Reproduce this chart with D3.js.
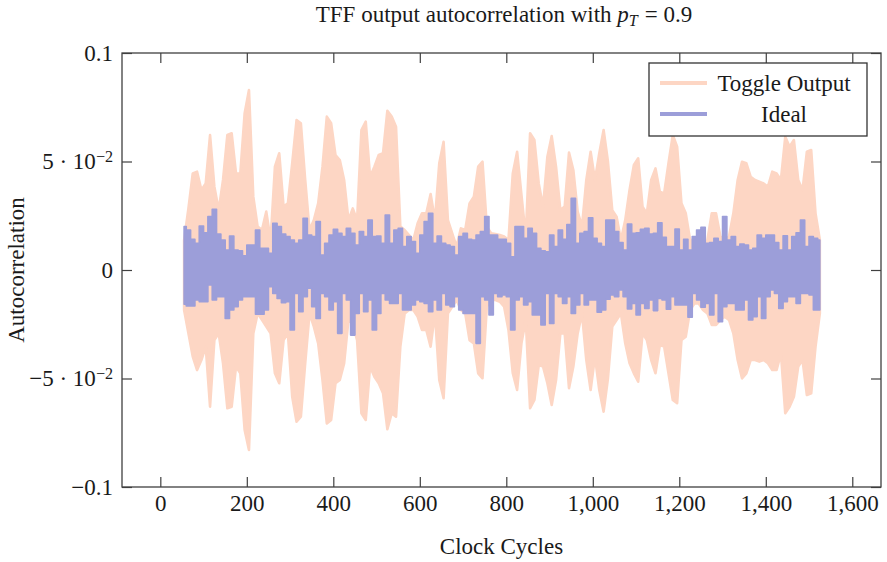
<!DOCTYPE html>
<html>
<head>
<meta charset="utf-8">
<script src="https://cdn.jsdelivr.net/npm/d3@7"></script>
<style>
    body { margin: 0; background: #ffffff; }
    svg { display: block; font-family: "Liberation Serif", "DejaVu Serif", serif; }
</style>
</head>
<body>
<script>
// 采样时钟周期（每 10 个周期读取一次包络）
const cycles = d3.range(55, 1535, 10);

// 以下数值单位为 1e-3，分别为振荡曲线的上/下包络
const toggleUpper = [
    13.8, 28.4, 44.5, 45.3, 36.9, 39.9, 62.2, 38.4, 27.6, 41.5, 62.2, 63.0, 44.5, 44.5, 72.2, 82.9, 33.8, 20.0, 18.4, 26.9, 13.8, 47.6, 53.8, 29.2,
    30.7, 49.2, 69.1, 67.6, 41.5, 18.4, 23.0, 30.7, 47.6, 70.7, 67.6, 53.0, 50.7, 41.5, 23.0, 28.4, 23.0, 64.5, 68.4, 43.0, 47.6, 53.0, 53.8, 73.4, 70.7,
    66.0, 20.0, 18.4, 16.1, 13.8, 21.5, 26.1, 26.1, 35.0, 23.0, 49.2, 59.1, 23.0, 16.9, 10.8, 19.2, 18.4, 30.7, 33.8, 47.6, 49.9, 20.0, 16.9, 16.6, 16.1,
    15.4, 13.8, 44.5, 54.5, 34.6, 15.4, 63.0, 59.9, 39.9, 29.2, 52.2, 61.7, 47.6, 27.6, 29.2, 54.1, 46.1, 26.9, 20.0, 41.5, 54.5, 41.5, 53.8, 64.5, 50.0,
    27.6, 24.6, 13.8, 23.0, 36.9, 48.4, 51.5, 29.2, 26.1, 41.5, 46.8, 36.1, 35.3, 49.2, 62.2, 56.8, 30.7, 26.1, 13.8, 13.8, 15.4, 12.3, 13.8, 26.1,
    26.1, 15.4, 13.8, 15.4, 26.1, 41.5, 49.9, 49.2, 43.0, 41.5, 40.7, 39.9, 38.4, 45.3, 44.5, 41.5, 61.4, 56.8, 59.9, 41.5, 36.9, 54.5, 55.3, 26.1, 13.8
];
const toggleLower = [
    -18.4, -29.2, -39.9, -46.1, -41.5, -35.3, -63.0, -32.3, -29.2, -43.0, -63.7, -63.0, -44.5, -47.6, -73.7, -82.9, -29.2, -20.0, -23.0, -26.1, -29.2, -47.6, -52.2, -32.3,
    -29.2, -58.4, -69.9, -67.6, -43.0, -20.0, -26.1, -33.8, -50.7, -70.7, -69.1, -52.2, -50.7, -43.0, -23.0, -24.6, -32.3, -66.0, -69.1, -44.5, -49.2, -52.2, -56.8, -73.4, -66.0,
    -67.6, -35.3, -20.0, -18.4, -18.4, -21.5, -27.6, -27.6, -35.3, -20.0, -50.7, -59.1, -20.0, -16.9, -13.8, -18.4, -20.0, -32.3, -33.8, -47.6, -49.9, -16.9, -13.8, -13.8, -14.6,
    -16.9, -27.6, -47.6, -55.3, -33.8, -23.0, -63.7, -59.9, -43.8, -44.5, -52.2, -62.2, -50.7, -29.2, -29.2, -54.5, -44.5, -29.2, -20.0, -41.5, -55.3, -39.9, -55.3, -65.3, -50.0,
    -26.1, -23.0, -20.0, -33.8, -43.0, -47.6, -51.5, -29.2, -32.3, -41.5, -47.6, -34.6, -35.3, -47.6, -59.9, -61.4, -32.3, -30.7, -18.4, -15.4, -15.4, -18.4, -20.0, -25.3,
    -25.3, -23.0, -21.5, -23.0, -29.2, -41.5, -49.9, -47.6, -41.5, -41.5, -42.2, -41.5, -43.0, -46.1, -46.1, -38.4, -66.0, -63.0, -58.4, -44.5, -41.5, -57.6, -56.8, -35.3, -20.0
];
const idealUpper = [
    20.0, 18.4, 14.1, 12.3, 20.3, 17.2, 24.6, 28.0, 16.6, 13.8, 9.2, 15.7, 9.2, 8.9, 6.5, 11.5, 11.5, 18.4, 10.0, 10.0, 7.7, 21.5, 20.0, 16.6,
    15.4, 13.8, 12.3, 13.8, 23.8, 16.1, 15.4, 22.3, 6.9, 12.3, 16.1, 18.7, 16.9, 15.4, 19.2, 16.9, 11.5, 17.7, 15.4, 23.0, 15.4, 15.7, 12.3, 25.3, 12.3,
    18.4, 19.2, 10.8, 15.4, 13.1, 7.7, 16.1, 22.3, 26.1, 12.3, 15.7, 12.3, 11.5, 10.8, 6.9, 15.4, 16.9, 14.1, 13.8, 16.1, 17.7, 24.6, 16.1, 16.1, 14.1,
    14.1, 12.3, 6.1, 20.0, 20.0, 14.6, 19.2, 16.9, 10.0, 8.9, 8.4, 16.1, 10.8, 18.4, 14.1, 21.0, 33.0, 12.3, 16.9, 17.7, 24.1, 14.6, 12.3, 10.8, 23.0,
    23.0, 17.7, 12.7, 9.2, 21.2, 16.9, 17.2, 18.7, 19.2, 16.6, 16.9, 21.8, 15.1, 10.8, 10.8, 18.9, 9.2, 14.1, 9.2, 15.4, 18.4, 19.7, 12.3, 12.7,
    14.6, 13.1, 24.6, 13.8, 15.4, 10.8, 12.0, 11.5, 9.2, 10.0, 16.1, 14.6, 16.1, 16.1, 12.7, 9.2, 15.8, 9.2, 15.4, 17.2, 23.0, 10.8, 15.4, 14.6, 13.8
];
const idealLower = [
    -15.8, -16.6, -16.6, -13.8, -14.6, -14.6, -6.9, -13.8, -12.3, -12.3, -22.3, -18.4, -16.9, -13.8, -12.3, -12.3, -12.3, -20.4, -20.4, -18.4, -7.7, -10.8, -13.1, -15.1,
    -14.6, -27.6, -10.8, -19.2, -12.3, -8.4, -16.9, -22.3, -10.8, -12.3, -18.4, -14.6, -29.2, -10.8, -13.8, -30.0, -20.0, -10.8, -19.2, -13.8, -27.6, -20.0, -10.8, -13.8, -15.4,
    -15.4, -10.8, -18.4, -18.4, -16.1, -13.8, -14.6, -15.4, -19.2, -13.8, -18.4, -10.8, -16.1, -16.9, -12.3, -18.4, -20.0, -20.0, -20.0, -33.8, -12.3, -13.8, -20.7, -10.8, -12.3,
    -11.5, -12.3, -27.6, -13.8, -12.3, -16.1, -14.6, -20.7, -20.7, -25.3, -10.8, -24.6, -10.8, -12.3, -15.4, -12.3, -20.0, -16.1, -10.8, -16.1, -13.8, -13.8, -19.5, -18.4, -13.5,
    -11.5, -12.3, -9.2, -12.3, -18.0, -15.4, -20.7, -15.4, -17.7, -13.8, -18.7, -13.1, -13.8, -18.1, -12.3, -16.1, -16.1, -16.1, -21.8, -10.8, -13.8, -17.2, -15.4, -20.7,
    -10.8, -23.8, -16.9, -15.4, -15.4, -18.4, -18.4, -13.8, -23.0, -21.5, -12.3, -22.3, -12.3, -9.2, -10.8, -17.7, -14.6, -12.3, -12.3, -15.4, -10.8, -10.8, -11.5, -18.4, -18.4
];

const xTicks = [0, 200, 400, 600, 800, 1000, 1200, 1400, 1600];
const yTicks = [-0.1, -0.05, 0, 0.05, 0.1];
const seriesNames = ['Toggle Output', 'Ideal'];
const seriesColors = ['#fdd6c4', '#9c9ed9'];

/**
 * 初始化 SVG 画布和坐标比例尺
 */
const initChart = (params) => {
    let {svgWidth, svgHeight, plot} = params;
    let svg = d3.select('body')
        .append('svg')
        .attr('width', svgWidth)
        .attr('height', svgHeight);

    let x = d3.scaleLinear()
        .domain([-88.6, 1666.4])
        .range([plot.left, plot.right]);
    let y = d3.scaleLinear()
        .domain([-0.1, 0.1])
        .range([plot.bottom, plot.top]);
    return {svg, x, y};
};

/**
 * 绘制两条振荡曲线（按包络填充）
 */
const renderSeries = (chart) => {
    let {svg, x, y} = chart;
    const bands = [
        {upper: toggleUpper, lower: toggleLower, color: seriesColors[0], curve: d3.curveLinear, width: 2.6},
        {upper: idealUpper, lower: idealLower, color: seriesColors[1], curve: d3.curveStep, width: 1.6}
    ];
    bands.forEach(band => {
        let rows = cycles.map((c, i) => ({c, hi: band.upper[i] * 1e-3, lo: band.lower[i] * 1e-3}));
        let area = d3.area()
            .curve(band.curve)
            .x(d => x(d.c))
            .y0(d => y(d.lo))
            .y1(d => y(d.hi));
        svg.append('path')
            .datum(rows)
            .attr('d', area)
            .attr('fill', band.color)
            .attr('stroke', band.color)
            .attr('stroke-width', band.width)
            .attr('stroke-linejoin', 'round');
    });
};

/**
 * 绘制坐标轴、刻度和边框
 */
const renderAxes = (chart, params) => {
    let {svg, x, y} = chart;
    let {plot, fontSize} = params;
    const tickLen = 10;
    const axisColor = '#404040';

    // 下方 x 轴（刻度朝内）
    let bottom = svg.append('g')
        .attr('transform', `translate(0,${plot.bottom})`)
        .call(d3.axisBottom(x).tickValues(xTicks).tickSizeInner(-tickLen).tickSizeOuter(0)
            .tickPadding(8).tickFormat(d3.format(',')));
    // 上方 x 轴
    let top = svg.append('g')
        .attr('transform', `translate(0,${plot.top})`)
        .call(d3.axisTop(x).tickValues(xTicks).tickSizeInner(-tickLen).tickSizeOuter(0).tickFormat(''));
    // 左侧 y 轴
    let left = svg.append('g')
        .attr('transform', `translate(${plot.left},0)`)
        .call(d3.axisLeft(y).tickValues(yTicks).tickSizeInner(-tickLen).tickSizeOuter(0)
            .tickPadding(9).tickFormat(() => ''));
    // 右侧 y 轴
    let right = svg.append('g')
        .attr('transform', `translate(${plot.right},0)`)
        .call(d3.axisRight(y).tickValues(yTicks).tickSizeInner(-tickLen).tickSizeOuter(0).tickFormat(''));

    [bottom, top, left, right].forEach(g => {
        g.select('.domain').remove();
        g.selectAll('line').attr('stroke', axisColor).attr('stroke-width', 1.2);
        g.attr('font-family', null).attr('font-size', fontSize);
        g.selectAll('text').attr('fill', '#1a1a1a');
    });

    // y 轴刻度标签：科学计数法带上标
    left.selectAll('.tick text')
        .attr('dy', '0.32em')
        .each(function (d) {
            let t = d3.select(this);
            if (Math.abs(Math.abs(d) - 0.05) < 1e-9) {
                t.append('tspan').text(`${d < 0 ? '\u2212' : ''}5 \u00b7 10`);
                t.append('tspan').attr('dy', '-0.48em').attr('font-size', fontSize * 0.7).text('\u22122');
            } else if (d === 0) {
                t.text('0');
            } else {
                t.text(`${d < 0 ? '\u2212' : ''}${Math.abs(d)}`);
            }
        });

    // 边框
    svg.append('rect')
        .attr('x', plot.left)
        .attr('y', plot.top)
        .attr('width', plot.right - plot.left)
        .attr('height', plot.bottom - plot.top)
        .attr('fill', 'none')
        .attr('stroke', axisColor)
        .attr('stroke-width', 1.3);
};

/**
 * 标题、轴标题和图例
 */
const renderLabels = (chart, params) => {
    let {svg} = chart;
    let {plot, fontSize} = params;
    const textColor = '#1a1a1a';

    // 标题
    let title = svg.append('text')
        .attr('x', 504)
        .attr('y', 22)
        .attr('text-anchor', 'middle')
        .attr('font-size', fontSize)
        .attr('fill', textColor);
    title.append('tspan').text('TFF output autocorrelation with ');
    title.append('tspan').attr('font-style', 'italic').text('p');
    title.append('tspan').attr('font-style', 'italic').attr('font-size', fontSize * 0.7).attr('dy', '0.25em').text('T');
    title.append('tspan').attr('dy', '-0.18em').attr('dx', 7).text('= 0.9');

    // x 轴标题
    svg.append('text')
        .attr('x', (plot.left + plot.right) / 2)
        .attr('y', 554)
        .attr('text-anchor', 'middle')
        .attr('font-size', fontSize)
        .attr('fill', textColor)
        .text('Clock Cycles');

    // y 轴标题
    svg.append('text')
        .attr('transform', `translate(24,${(plot.top + plot.bottom) / 2}) rotate(-90)`)
        .attr('text-anchor', 'middle')
        .attr('font-size', fontSize)
        .attr('fill', textColor)
        .text('Autocorrelation');

    // 图例
    let legend = svg.append('g').attr('transform', 'translate(649,63)');
    legend.append('rect')
        .attr('width', 218)
        .attr('height', 73)
        .attr('fill', '#ffffff')
        .attr('stroke', '#333333')
        .attr('stroke-width', 1.3);
    seriesNames.forEach((name, i) => {
        let rowY = 20 + i * 31;
        legend.append('line')
            .attr('x1', 11).attr('x2', 58)
            .attr('y1', rowY).attr('y2', rowY)
            .attr('stroke', seriesColors[i])
            .attr('stroke-width', 4);
        legend.append('text')
            .attr('x', 135)
            .attr('y', rowY + 8)
            .attr('text-anchor', 'middle')
            .attr('font-size', fontSize)
            .attr('fill', textColor)
            .text(name);
    });
};

let renderParams = {
    svgWidth: 887,
    svgHeight: 562,
    fontSize: 23,
    plot: {left: 122, right: 881, top: 53, bottom: 487}
};
let chart = initChart(renderParams);
renderSeries(chart);
renderAxes(chart, renderParams);
renderLabels(chart, renderParams);
</script>
</body>
</html>
